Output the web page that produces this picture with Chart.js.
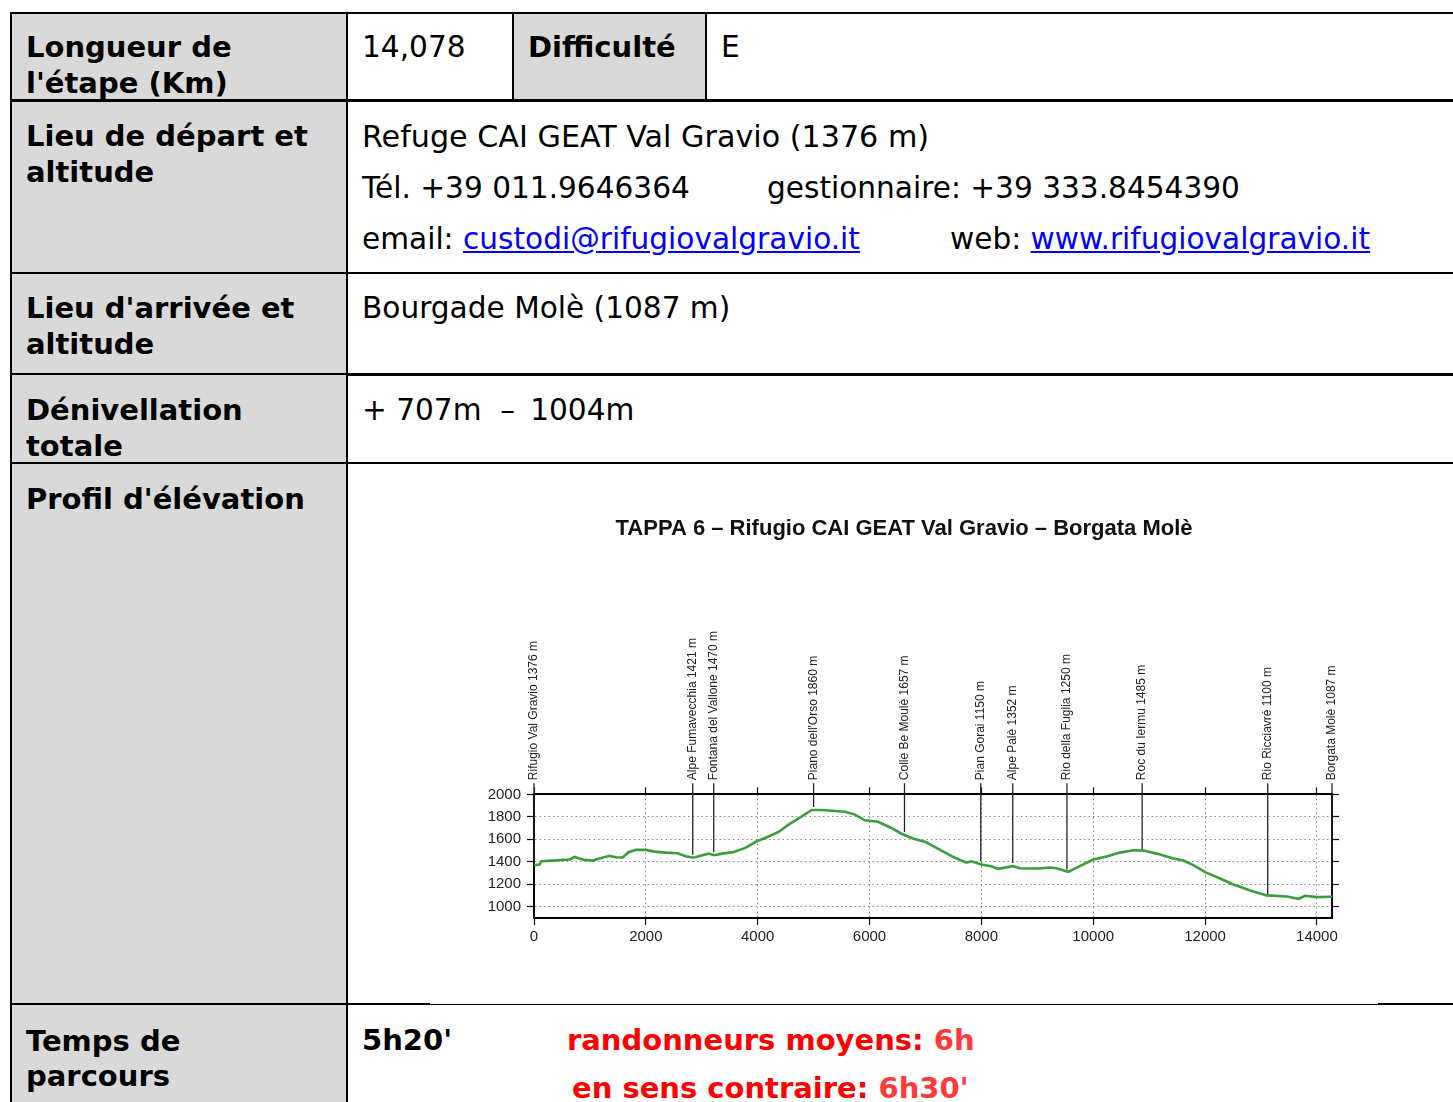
<!DOCTYPE html>
<html>
<head>
<meta charset="utf-8">
<script src="https://cdn.jsdelivr.net/npm/chart.js@4.4.1/dist/chart.umd.min.js"></script>
<style>
  html, body { margin: 0; padding: 0; background: #fff; }
  body { width: 1453px; height: 1102px; overflow: hidden; position: relative;
         font-family: "DejaVu Sans", Verdana, sans-serif; font-size: 29.6px; line-height: 35.5px; color: #000; }
  .c { position: absolute; box-sizing: border-box; border: 2px solid #000; padding: 14px 8px 0 14px; }
  .g { background: #d9d9d9; }
  .b { font-weight: bold; font-size: 29px; }
  .p { margin: 0 0 16px 0; white-space: nowrap; }
  .tab { display: inline-block; }
  a { color: #0000ff; text-decoration: underline; }
  .red { color: #ff0000; font-weight: bold; font-size: 29px; }
  .red2 { color: #ff3a3a; }
  #wrap { position: absolute; left: 430px; top: 470px; width: 948px; height: 534px; background: #fff; }
</style>
</head>
<body>

<div class="c g b" style="left:10px;top:12px;width:338px;height:89px;padding-top:16px">Longueur de<br>l'étape (Km)</div>
<div class="c" style="left:346px;top:12px;width:168px;height:89px;padding-top:16px">14,078</div>
<div class="c g b" style="left:512px;top:12px;width:195px;height:89px;padding-top:16px">Difficulté</div>
<div class="c" style="left:705px;top:12px;width:767px;height:89px;padding-top:16px">E</div>

<div class="c g b" style="left:10px;top:100px;width:338px;height:174px;padding-top:17px">Lieu de départ et<br>altitude</div>
<div class="c" style="left:346px;top:100px;width:1126px;height:174px;padding-top:17px">
  <div class="p" style="font-size:30.2px">Refuge CAI GEAT Val Gravio (1376 m)</div>
  <div class="p"><span class="tab" style="width:405px">Tél. +39 011.9646364</span>gestionnaire: +39 333.8454390</div>
  <div class="p"><span class="tab" style="width:588px">email: <a>custodi@rifugiovalgravio.it</a></span>web: <a>www.rifugiovalgravio.it</a></div>
</div>

<div class="c g b" style="left:10px;top:272px;width:338px;height:104px;padding-top:17px">Lieu d'arrivée et<br>altitude</div>
<div class="c" style="left:346px;top:272px;width:1126px;height:104px;padding-top:17px">Bourgade Molè (1087 m)</div>

<div class="c g b" style="left:10px;top:373px;width:338px;height:91px;padding-top:18px">Dénivellation<br>totale</div>
<div class="c" style="left:346px;top:373px;width:1126px;height:91px;padding-top:18px;white-space:pre">+ 707m  –<span style="margin-left:15px">1004m</span></div>

<div class="c g b" style="left:10px;top:462px;width:338px;height:543px;padding-top:18px">Profil d'élévation</div>
<div class="c" style="left:346px;top:462px;width:1126px;height:543px"></div>

<div class="c g b" style="left:10px;top:1003px;width:338px;height:160px;padding-top:19px;line-height:35px">Temps de<br>parcours</div>
<div class="c" style="left:346px;top:1003px;width:1126px;height:160px;padding-top:18px">
  <div class="p" style="margin-bottom:12px"><span class="tab b" style="width:205px">5h20'</span><span class="red">randonneurs moyens: <span class="red2">6h</span></span></div>
  <div class="p" style="padding-left:210px"><span class="red">en sens contraire: <span class="red2">6h30'</span></span></div>
</div>

<div id="wrap"><canvas id="profil" width="948" height="534"></canvas></div>

<script>
// profil altimétrique (distance en m, altitude en m)
const distances = [0, 100, 130, 340, 635, 724, 813, 902, 1050, 1169, 1347, 1466, 1585, 1691, 1822, 2000,
    2148, 2356, 2564, 2712, 2831, 2890, 3009, 3128, 3217, 3365, 3573, 3780, 3982, 4136, 4374, 4552,
    4789, 4967, 5145, 5383, 5561, 5739, 5917, 6154, 6392, 6570, 6776, 7015, 7254, 7493, 7731, 7821,
    8000, 8179, 8299, 8567, 8687, 9045, 9224, 9343, 9552, 9761, 10000, 10239, 10478, 10716, 10896,
    11134, 11433, 11612, 11791, 12000, 12269, 12507, 12806, 13104, 13463, 13672, 13791, 14000, 14270];

const elevations = [1370, 1376, 1405, 1411, 1420, 1444, 1429, 1417, 1411, 1429, 1453, 1441, 1438, 1485, 1506, 1506,
    1491, 1482, 1476, 1450, 1438, 1441, 1459, 1473, 1459, 1473, 1488, 1524, 1583, 1612, 1666, 1731,
    1805, 1861, 1861, 1852, 1846, 1820, 1769, 1757, 1701, 1650, 1607, 1574, 1509, 1444, 1393, 1405,
    1376, 1361, 1337, 1361, 1343, 1340, 1349, 1343, 1311, 1361, 1420, 1447, 1482, 1503, 1500,
    1473, 1429, 1411, 1370, 1308, 1251, 1198, 1145, 1101, 1092, 1071, 1098, 1086, 1089];

// points de passage
const wpNames = ["Rifugio Val Gravio 1376 m", "Alpe Fumavecchia 1421 m", "Fontana del Vallone 1470 m",
    "Piano dell'Orso 1860 m", "Colle Be Moulè 1657 m", "Pian Gorai 1150 m", "Alpe Palè 1352 m",
    "Rio della Fuglia 1250 m", "Roc du Iermu 1485 m", "Rio Ricciavré 1100 m", "Borgata Molè 1087 m"];
const wpDist = [0, 2839, 3214, 5000, 6625, 7989, 8561, 9530, 10875, 13120, 14270];
const wpLineEnd = [1376, 1462, 1486, 1888, 1666, 1405, 1390, 1331, 1500, 1109, 1089];
const wpLineTop = 2100;

const xTicks = [0, 2000, 4000, 6000, 8000, 10000, 12000, 14000];
const yTicks = [1000, 1200, 1400, 1600, 1800, 2000];

const gridDotted = {
    color: "#8a8a8a",
    lineWidth: 1,
    tickLength: 7,
    tickColor: "#111",
    tickWidth: 1.2
};

const frame = { color: "#000", width: 2, dash: [1.5, 3] };

const markerSets = wpDist.map((d, i) => ({
    data: [{ x: d, y: wpLineEnd[i] }, { x: d, y: wpLineTop }],
    borderColor: "#222",
    borderWidth: 1.3,
    pointRadius: 0,
    clip: false
}));

const wpLabels = {
    id: "wpLabels",
    afterDatasetsDraw(chart) {
        const ctx = chart.ctx;
        const xs = chart.scales.x;
        const ys = chart.scales.y;
        ctx.save();
        ctx.font = "12px 'Liberation Sans', Arial, sans-serif";
        ctx.fillStyle = "#222";
        ctx.textAlign = "left";
        ctx.textBaseline = "middle";
        wpNames.forEach((name, i) => {
            const x = xs.getPixelForValue(wpDist[i]);
            const y = ys.getPixelForValue(wpLineTop) - 3;
            ctx.save();
            ctx.translate(x, y);
            ctx.rotate(-Math.PI / 2);
            ctx.fillText(name, 0, 0);
            ctx.restore();
        });
        ctx.restore();
    }
};

Chart.defaults.font.family = "'Liberation Sans', Arial, sans-serif";
Chart.defaults.color = "#222";

new Chart(document.getElementById("profil"), {
    type: "line",
    data: {
        datasets: [
            {
                data: distances.map((d, i) => ({ x: d, y: elevations[i] })),
                borderColor: "#3d9c3d",
                borderWidth: 2.6,
                pointRadius: 0,
                tension: 0
            },
            ...markerSets
        ]
    },
    options: {
        responsive: false,
        devicePixelRatio: 1,
        animation: false,
        layout: { padding: 0 },
        plugins: {
            legend: { display: false },
            tooltip: { enabled: false },
            title: {
                display: true,
                text: "TAPPA 6 – Rifugio CAI GEAT Val Gravio – Borgata Molè",
                color: "#111",
                font: { size: 22, weight: "bold" },
                padding: { top: 46, bottom: 245 }
            }
        },
        scales: {
            x: {
                type: "linear",
                min: 0,
                max: 14270,
                afterBuildTicks: s => { s.ticks = xTicks.map(v => ({ value: v })); },
                afterFit: s => { s.height = 86; },
                ticks: { font: { size: 15 }, padding: 3, maxRotation: 0, callback: v => String(v) },
                grid: gridDotted,
                border: frame
            },
            x2: {
                type: "linear",
                position: "top",
                min: 0,
                max: 14270,
                afterBuildTicks: s => { s.ticks = xTicks.map(v => ({ value: v })); },
                afterFit: s => { s.height = 7; },
                ticks: { display: false },
                grid: { drawOnChartArea: false, tickLength: 7, tickColor: "#111", tickWidth: 1.2 },
                border: { color: "#000", width: 2 }
            },
            y: {
                min: 900,
                max: 2000,
                afterBuildTicks: s => { s.ticks = yTicks.map(v => ({ value: v })); },
                afterFit: s => { s.width = 104; },
                ticks: { font: { size: 15 }, padding: 6, callback: v => String(v) },
                grid: gridDotted,
                border: frame
            },
            y2: {
                position: "right",
                min: 900,
                max: 2000,
                afterBuildTicks: s => { s.ticks = yTicks.map(v => ({ value: v })); },
                afterFit: s => { s.width = 46; },
                ticks: { display: false },
                grid: { drawOnChartArea: false, tickLength: 7, tickColor: "#111", tickWidth: 1.2 },
                border: { color: "#000", width: 2 }
            }
        }
    },
    plugins: [wpLabels]
});
</script>
</body>
</html>
